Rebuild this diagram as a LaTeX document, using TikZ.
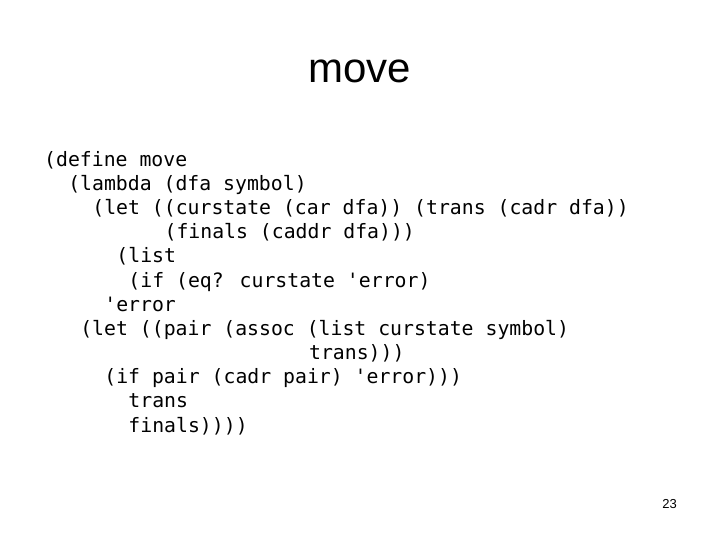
\documentclass[tikz,border=0pt]{standalone}
\usepackage{fontspec}
\setmainfont{Liberation Sans}
\newfontfamily\codefont{DejaVu Sans Mono}
\begin{document}
\begin{tikzpicture}[x=1pt,y=1pt,
  code/.style={anchor=base west,inner sep=0pt,font=\codefont\fontsize{19.8}{24}\selectfont},
  ttl/.style={anchor=base,inner sep=0pt,font=\fontsize{42}{48}\selectfont},
  pg/.style={anchor=base east,inner sep=0pt,font=\fontsize{13}{15}\selectfont}]
\useasboundingbox (0,0) rectangle (720,540);
\fill[white] (0,0) rectangle (720,540);
\node[ttl] (title) at (360,457) {move};
\def\cw{12.04}
\node[code] (l1) at (44,540-167) {(define move};
\node[code] (l2) at (44+2*\cw,540-191) {(lambda (dfa symbol)};
\node[code] (l3) at (44+4*\cw,540-215) {(let ((curstate (car dfa)) (trans (cadr dfa))};
\node[code] (l4) at (44+10*\cw,540-239) {(finals (caddr dfa)))};
\node[code] (l5) at (44+6*\cw,540-263) {(list};
\node[code] (l6) at (44+7*\cw,540-288) {(if (eq? curstate 'error)};
\node[code] (l7) at (44+5*\cw,540-312) {'error};
\node[code] (l8) at (44+3*\cw,540-336) {(let ((pair (assoc (list curstate symbol)};
\node[code] (l9) at (44+22*\cw,540-360) {trans)))};
\node[code] (l10) at (44+5*\cw,540-384) {(if pair (cadr pair) 'error)))};
\node[code] (l11) at (44+7*\cw,540-408) {trans};
\node[code] (l12) at (44+7*\cw,540-433) {finals))))};
\node[pg] (page) at (677,540-509) {23};
\end{tikzpicture}
\end{document}
